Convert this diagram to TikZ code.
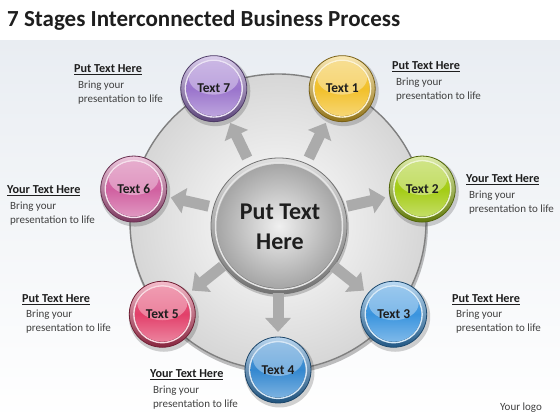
\documentclass[tikz,border=0pt]{standalone}
\usepackage{fontspec}
\setmainfont{Carlito}
\usetikzlibrary{calc,arrows.meta}
\definecolor{cpurple}{HTML}{9A74CC}
\definecolor{cyellow}{HTML}{F2C02A}
\definecolor{cgreen}{HTML}{A4CC14}
\definecolor{cblueA}{HTML}{3A94DE}
\definecolor{cblueB}{HTML}{3488D0}
\definecolor{cred}{HTML}{E2406A}
\definecolor{cpink}{HTML}{D060A0}
\definecolor{txt}{HTML}{1E1E1E}
\definecolor{bandtop}{HTML}{E9EDF2}
\newcommand\mysat[4]{%
  \coordinate (#1p) at ($(C)+(#2:148)$);
  \fill[black, opacity=.18] ($(#1p)+(1.5,-2.5)$) circle (35);
  \shade[top color=#3!35!white, bottom color=#3!60!black] (#1p) circle (33);
  \draw[#3!50!black, line width=.8] (#1p) circle (33);
  \draw[#3!20!white, line width=1.4] (#1p) circle (28.4);
  \shade[top color=#3!80!white, bottom color=#3!65!white, middle color=#3] (#1p) circle (27.4);
  \begin{scope}
    \clip (#1p) circle (27.4);
    \fill[white, opacity=.35] ($(#1p)+(0,11)$) ellipse (25 and 17);
  \end{scope}
  \node[sattext] (#1) at (#1p) {#4};
}
\begin{document}
\begin{tikzpicture}[x=1pt,y=1pt,
  sattext/.style={font=\bfseries\fontsize{13.5}{15}\selectfont, text=txt, inner sep=0pt},
  head/.style={anchor=base west, inner sep=0pt, font=\bfseries\fontsize{12.2}{14}\selectfont, text=txt},
  body/.style={anchor=base west, inner sep=0pt, align=left, font=\fontsize{11}{14}\selectfont, text=txt!85},
  barrow/.style={line width=11pt, draw=black!33, -{Triangle[width=25pt,length=14pt]}}
]
\useasboundingbox (0,0) rectangle (560,420);
\fill[white] (0,0) rectangle (560,420);
\shade[top color=bandtop, bottom color=white] (0,0) rectangle (560,380);
\fill[white] (0,380) rectangle (560,420);
% title
\node[anchor=base west, inner sep=0pt, font=\bfseries\fontsize{23}{26}\selectfont, text=txt] (title) at (7,393) {7 Stages Interconnected Business Process};
% big circle
\coordinate (C) at (278,198);
\fill[black, opacity=.25] ($(C)+(1,-3)$) circle (149);
\shade[inner color=white, outer color=black!16] (C) circle (148);
\draw[black!50, line width=1.4] (C) circle (148);
% center circle
\coordinate (M) at (279,194);
\fill[black, opacity=.2] ($(M)+(1,-2)$) circle (69);
\shade[top color=black!12, bottom color=black!55] (M) circle (68);
\draw[black!55, line width=.8] (M) circle (68);
\draw[white!90!black, line width=1.5] (M) circle (63.5);
\shade[inner color=black!6, outer color=black!35] (M) circle (62);
\node[font=\bfseries\fontsize{24}{30}\selectfont, align=center, text=txt] (ctr) at (280,193) {Put Text\\Here};
% satellites
\mysat{s4}{-90}{cblueB}{Text 4}
\mysat{s3}{-38.57}{cblueA}{Text 3}
\mysat{s2}{12.86}{cgreen}{Text 2}
\mysat{s1}{64.29}{cyellow}{Text 1}
\mysat{s7}{115.71}{cpurple}{Text 7}
\mysat{s6}{167.14}{cpink}{Text 6}
\mysat{s5}{218.57}{cred}{Text 5}
% arrows
\foreach \s in {s1,s2,s3,s4,s5,s6,s7}{
  \draw[barrow] ($(C)!71pt!(\s)$) -- ($(C)!110pt!(\s)$);
}
% labels
\node[head] (h7) at (74,347) {\underline{Put Text Here}};
\node[body] (b7) at (78,317) {Bring your\\presentation to life};
\node[head] (h1) at (392,350) {\underline{Put Text Here}};
\node[body] (b1) at (396,320) {Bring your\\presentation to life};
\node[head] (h2) at (466,237) {\underline{Your Text Here}};
\node[body] (b2) at (469,207) {Bring your\\presentation to life};
\node[head] (h6) at (7,226) {\underline{Your Text Here}};
\node[body] (b6) at (10,196) {Bring your\\presentation to life};
\node[head] (h5) at (22,117) {\underline{Put Text Here}};
\node[body] (b5) at (26,88) {Bring your\\presentation to life};
\node[head] (h3) at (452,117) {\underline{Put Text Here}};
\node[body] (b3) at (456,88) {Bring your\\presentation to life};
\node[head] (h4) at (150,42) {\underline{Your Text Here}};
\node[body] (b4) at (153,12) {Bring your\\presentation to life};
\node[anchor=base west, inner sep=0pt, font=\fontsize{11}{13}\selectfont, text=txt!85] (logo) at (500,9) {Your logo};
\end{tikzpicture}
\end{document}
